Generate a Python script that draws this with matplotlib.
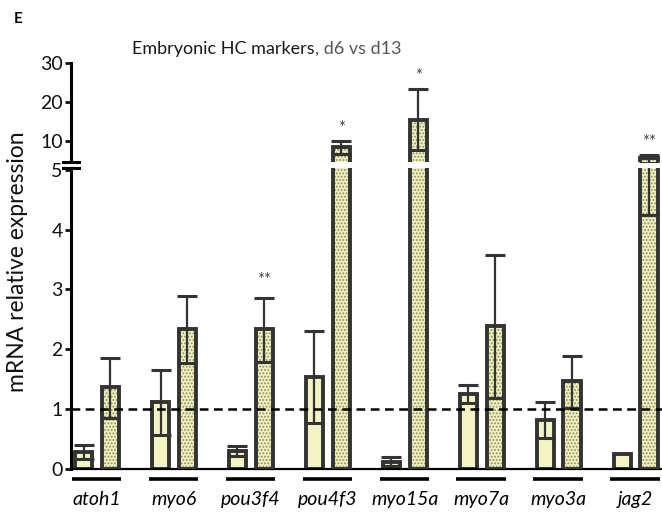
import numpy as np
import matplotlib.pyplot as plt
from matplotlib.transforms import blended_transform_factory

plt.rcParams['font.family'] = ['Lato', 'DejaVu Sans']
plt.rcParams['hatch.linewidth'] = 0.9

genes = ['atoh1', 'myo6', 'pou3f4', 'pou4f3', 'myo15a', 'myo7a', 'myo3a', 'jag2']
d6_mean = [0.28, 1.11, 0.30, 1.53, 0.12, 1.25, 0.82, 0.25]
d6_err = [0.11, 0.54, 0.08, 0.77, 0.08, 0.15, 0.30, 0.0]
d13_mean = [1.37, 2.34, 2.33, 8.4, 15.5, 2.38, 1.47, 5.6]
d13_err_lo = [0.52, 0.58, 0.54, 1.7, 7.9, 1.2, 0.45, 1.35]
d13_err_hi = [0.48, 0.55, 0.52, 1.7, 7.8, 1.2, 0.42, 0.85]
star_text = ['', '', '**', '*', '*', '', '', '**']
star_y = [0, 0, 3.15, 13.3, 26.7, 0, 0, 9.7]

edge = '#333333'
d6_col = '#f3f3c3'
d13_col = '#efefbc'
hatch_col = '#8f8f6c'
off = 0.175
w = 0.23

fig = plt.figure(figsize=(6.62, 5.17), dpi=100)
ax_lo = fig.add_axes([71/662, 48.3/517, 591/662, 300.7/517])
ax_up = fig.add_axes([71/662, 355.3/517, 591/662, 98.4/517])

x = np.arange(len(genes))


def draw(ax):
    ax.bar(x - off, d6_mean, w, color=d6_col, edgecolor=edge, linewidth=2.8, zorder=2)
    ax.bar(x + off, d13_mean, w, color=d13_col, edgecolor=hatch_col, hatch='.....',
           linewidth=0, zorder=2)
    ax.bar(x + off, d13_mean, w, facecolor='none', edgecolor=edge, linewidth=2.8, zorder=3)
    for i in range(len(genes)):
        if d6_err[i] > 0:
            ax.errorbar(x[i] - off, d6_mean[i], yerr=d6_err[i], fmt='none', ecolor=edge,
                        elinewidth=1.6, capsize=7, capthick=2.2, zorder=4)
        ax.errorbar(x[i] + off, d13_mean[i], yerr=[[d13_err_lo[i]], [d13_err_hi[i]]],
                    fmt='none', ecolor=edge, elinewidth=1.6, capsize=7, capthick=2.2, zorder=4)
    ax.set_xlim(-0.338, 7.34)
    ax.spines['top'].set_visible(False)
    ax.spines['right'].set_visible(False)
    ax.spines['left'].set_linewidth(2.2)
    ax.tick_params(axis='y', length=4, width=2, labelsize=14, pad=2, colors='#111111')


draw(ax_lo)
draw(ax_up)

# lower part
ax_lo.set_ylim(0, 5.03)
ax_lo.set_yticks([0, 1, 2, 3, 4, 5])
ax_lo.spines['bottom'].set_linewidth(1.6)
ax_lo.axhline(1, color='black', ls=(0, (3.5, 2.2)), lw=1.8, zorder=5)
ax_lo.set_xticks(x, genes, style='italic', fontsize=14)
ax_lo.tick_params(axis='x', length=0, pad=16)

trans = blended_transform_factory(ax_lo.transData, ax_lo.transAxes)
for i in x:
    ax_lo.plot([i - 0.33, i + 0.31], [-0.034, -0.034], transform=trans, clip_on=False,
               color='black', lw=2.6, solid_capstyle='butt')

# upper part
ax_up.set_ylim(4.67, 30)
ax_up.set_yticks([10, 20, 30])
ax_up.spines['bottom'].set_visible(False)
ax_up.tick_params(axis='x', bottom=False, labelbottom=False)

# axis break marks
dx = 8 / 591
ax_up.plot([-dx, dx], [0, 0], transform=ax_up.transAxes, clip_on=False, color='black', lw=2.2)
ax_lo.plot([-dx, dx], [1, 1], transform=ax_lo.transAxes, clip_on=False, color='black', lw=2.2)

# significance stars
for i in range(len(genes)):
    if star_text[i]:
        ax = ax_up if star_y[i] > 5 else ax_lo
        ax.text(x[i] + off, star_y[i], star_text[i], ha='center', va='center',
                fontsize=12, color='#444444')

fig.text(18/662, 1 - 262/517, 'mRNA relative expression', rotation=90,
         ha='center', va='center', fontsize=16.5, color='#111111')
fig.text(315/662, 1 - 49/517, 'Embryonic HC markers', ha='right', va='center',
         fontsize=13, color='#1a1a1a')
fig.text(315/662, 1 - 49/517, ', d6 vs d13', ha='left', va='center',
         fontsize=13, color='#555555')
fig.text(18/662, 1 - 19/517, 'E', ha='center', va='center', fontsize=11, weight='bold')

fig.savefig('out.png', dpi=100)
